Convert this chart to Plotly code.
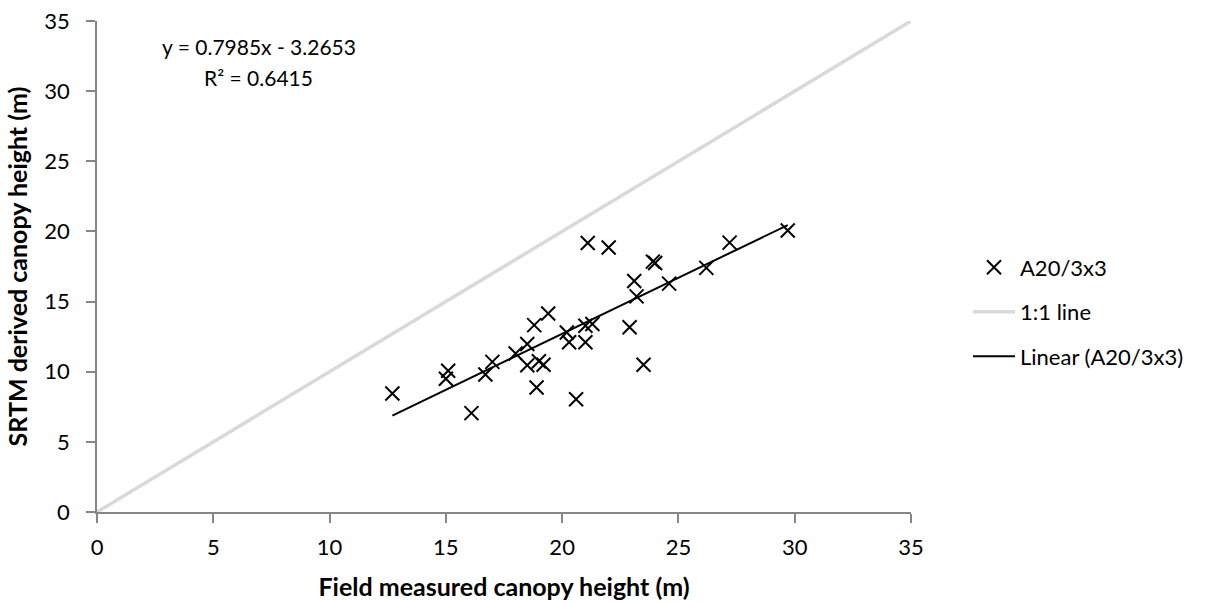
import plotly.graph_objects as go

field_height = [12.7, 15.0, 15.1, 16.1, 16.7, 17.0, 18.0, 18.5, 18.5, 18.8, 19.0, 18.9,
                19.2, 19.4, 20.2, 20.3, 20.6, 21.1, 21.0, 21.3, 21.0, 22.0, 22.9, 23.1,
                23.2, 23.5, 23.9, 24.0, 24.6, 26.2, 27.2, 29.7]
srtm_height = [8.45, 9.5, 10.07, 7.05, 9.8, 10.7, 11.3, 11.98, 10.46, 13.32, 10.75, 8.87,
               10.5, 14.15, 12.8, 12.1, 8.04, 19.17, 13.28, 13.4, 12.1, 18.85, 13.17, 16.47,
               15.37, 10.5, 17.85, 17.75, 16.28, 17.4, 19.2, 20.07]
one_to_one = [0, 35]
slope = 0.7985
intercept = -3.2653
r_squared = 0.6415
axis_ticks = [0, 5, 10, 15, 20, 25, 30, 35]

FONT = "Lato"
GRAY = "#868686"

trend_x = [min(field_height), max(field_height)]
trend_y = [slope * v + intercept for v in trend_x]

fig = go.Figure()
fig.add_trace(go.Scatter(
    x=field_height, y=srtm_height, mode="markers", name="A20/3x3",
    marker=dict(symbol="x-thin-open", size=14, color="black",
                line=dict(color="black", width=2)),
    legendgroup="a"))
fig.add_trace(go.Scatter(
    x=one_to_one, y=one_to_one, mode="lines", name="1:1 line",
    line=dict(color="#d9d9d9", width=3.5), legendgroup="b"))
fig.add_trace(go.Scatter(
    x=trend_x, y=trend_y, mode="lines", name="Linear (A20/3x3)",
    line=dict(color="black", width=2), legendgroup="c"))

fig.add_annotation(
    text=f"y = {slope}x - {abs(intercept)}",
    xref="paper", yref="paper", x=0.199, y=0.949, xanchor="center", yanchor="middle",
    showarrow=False, font=dict(family=FONT, size=21, color="black"))
fig.add_annotation(
    text=f"R² = {r_squared}",
    xref="paper", yref="paper", x=0.199, y=0.884, xanchor="center", yanchor="middle",
    showarrow=False, font=dict(family=FONT, size=21, color="black"))

axis_common = dict(
    range=[0, 35], tickvals=axis_ticks, showgrid=False, zeroline=False,
    showline=True, linecolor=GRAY, linewidth=1.5, ticks="outside",
    ticklen=9, tickcolor=GRAY, tickwidth=1.5, automargin=False,
    tickfont=dict(family=FONT, size=22, color="black"))

fig.update_xaxes(**axis_common, ticklabelstandoff=6,
                 title=dict(text="<b>Field measured canopy height (m)</b>",
                            font=dict(family=FONT, size=25, color="black"),
                            standoff=19))
fig.update_yaxes(**axis_common, ticklabelstandoff=12,
                 title=dict(text="<b>SRTM derived canopy height (m)</b>",
                            font=dict(family=FONT, size=25, color="black"),
                            standoff=10))

fig.update_layout(
    width=1217, height=603,
    margin=dict(l=97, r=306, t=21, b=91, autoexpand=False),
    plot_bgcolor="white", paper_bgcolor="white",
    showlegend=True,
    legend=dict(x=1.070, y=0.541, xanchor="left", yanchor="top",
                font=dict(family=FONT, size=22, color="black"),
                itemwidth=42, tracegroupgap=13, bgcolor="rgba(0,0,0,0)"),
)

fig.write_html("out.html")
